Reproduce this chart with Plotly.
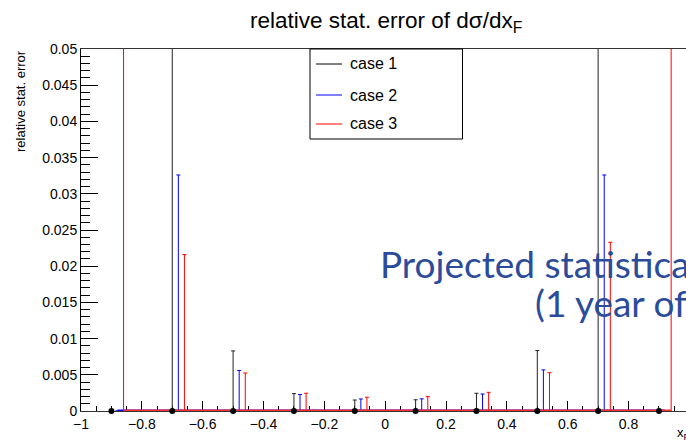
import numpy as np
import plotly.graph_objects as go

# ---- data ----
xf_bins = [-0.9, -0.7, -0.5, -0.3, -0.1, 0.1, 0.3, 0.5, 0.7, 0.9]
offset_case2 = 0.02
offset_case3 = 0.04
# relative statistical errors (values > 0.05 run off the top of the frame)
err_case1 = [0.0, 1.0, 0.00830, 0.00240, 0.00152, 0.00155, 0.00245, 0.00835, 1.0, 0.0]
err_case2 = [0.0, 0.03260, 0.00560, 0.00228, 0.00166, 0.00168, 0.00235, 0.00568, 0.03260, 0.0]
err_case3 = [1.0, 0.02160, 0.00525, 0.00245, 0.00190, 0.00198, 0.00258, 0.00528, 0.02330, 1.0]
yvals = [0.0] * len(xf_bins)

x1 = list(xf_bins)
x2 = [round(v + offset_case2, 3) for v in xf_bins]
x3 = [round(v + offset_case3, 3) for v in xf_bins]

W, H = 686, 441
L, R, T, B = 81, 0, 49, 30
pw, ph = W - L - R, H - T - B
px_per_unit = 304.2
x_range = [-1.0, -1.0 + pw / px_per_unit]


def px(xp):
    return (xp - L) / pw


def py(yp):
    return (H - B - yp) / ph


FONT = "Liberation Sans, Arial, Helvetica, sans-serif"

fig = go.Figure()


def eb(arr, color):
    return dict(type="data", array=arr, symmetric=True, color=color,
                thickness=1, width=2)


fig.add_trace(go.Scatter(x=x2, y=yvals, mode="lines", line=dict(color="blue", width=3),
                         error_y=eb(err_case2, "blue"), showlegend=False))
fig.add_trace(go.Scatter(x=x3, y=yvals, mode="lines", line=dict(color="#ff3030", width=3),
                         error_y=eb(err_case3, "red"), showlegend=False))
fig.add_trace(go.Scatter(x=x1, y=yvals, mode="markers", marker=dict(color="black", size=6),
                         error_y=eb(err_case1, "#222222"), cliponaxis=False, showlegend=False))

fig.update_layout(
    width=W, height=H,
    margin=dict(l=L, r=R, t=T, b=B, pad=0),
    paper_bgcolor="white", plot_bgcolor="white",
    font=dict(family=FONT, size=14, color="black"),
    showlegend=False,
)

fig.update_xaxes(
    range=x_range, showgrid=False, zeroline=False,
    showline=True, linecolor="#333333", linewidth=1, mirror=True,
    ticks="inside", ticklen=10, tickcolor="black", tickwidth=1,
    tick0=-1, dtick=0.2,
    minor=dict(ticks="inside", ticklen=5, tickcolor="black", dtick=0.05, tick0=-1),
    tickfont=dict(family=FONT, size=14, color="black"),
    layer="below traces",
)
fig.update_yaxes(
    range=[0, 0.05], showgrid=False, zeroline=False,
    showline=True, linecolor="black", linewidth=1, mirror=False,
    ticks="inside", ticklen=17, tickcolor="black", tickwidth=1,
    tick0=0, dtick=0.005,
    minor=dict(ticks="inside", ticklen=9, tickcolor="black", dtick=0.001, tick0=0),
    tickfont=dict(family=FONT, size=14, color="black"),
    layer="below traces",
)

ann = []
# title
ann.append(dict(text="relative stat. error of d\u03c3/dx<sub>F</sub>", xref="paper", yref="paper",
                x=px(386), y=py(22), xanchor="center", yanchor="middle", showarrow=False,
                font=dict(family=FONT, size=22.5, color="black")))
# y title
ann.append(dict(text="relative stat. error", xref="paper", yref="paper",
                x=px(20), y=py(48), xanchor="center", yanchor="top", textangle=-90,
                showarrow=False, font=dict(family=FONT, size=13, color="black")))
# x title
ann.append(dict(text="x<sub>F</sub>", xref="paper", yref="paper",
                x=px(692), y=py(433), xanchor="right", yanchor="middle",
                showarrow=False, font=dict(family=FONT, size=13, color="black")))
# overlay text
ann.append(dict(text="Projected statistical", xref="paper", yref="paper",
                x=px(378), y=py(263.5), xanchor="left", yanchor="middle", showarrow=False,
                font=dict(family="Lato", size=37, color="#2b4b9b")))
ann.append(dict(text="(1 year of data)", xref="paper", yref="paper",
                x=px(533), y=py(302.5), xanchor="left", yanchor="middle", showarrow=False,
                font=dict(family="Lato", size=37, color="#2b4b9b")))

# legend (manual, ROOT TLegend style)
shapes = [dict(type="rect", xref="paper", yref="paper", x0=px(310), x1=px(462.5),
               y0=py(139), y1=py(49), line=dict(color="black", width=1), fillcolor="white",
               layer="above")]
legend_names = ["case 1", "case 2", "case 3"]
legend_colors = ["black", "blue", "red"]
legend_rows = [64, 95, 124]
for name, col, row in zip(legend_names, legend_colors, legend_rows):
    shapes.append(dict(type="line", xref="paper", yref="paper", x0=px(316), x1=px(342),
                       y0=py(row), y1=py(row), line=dict(color=col, width=1), layer="above"))
    ann.append(dict(text=name, xref="paper", yref="paper", x=px(348), y=py(row),
                    xanchor="left", yanchor="middle", showarrow=False,
                    font=dict(family=FONT, size=16, color="black")))

fig.update_layout(annotations=ann, shapes=shapes)
fig.write_html("out.html")
